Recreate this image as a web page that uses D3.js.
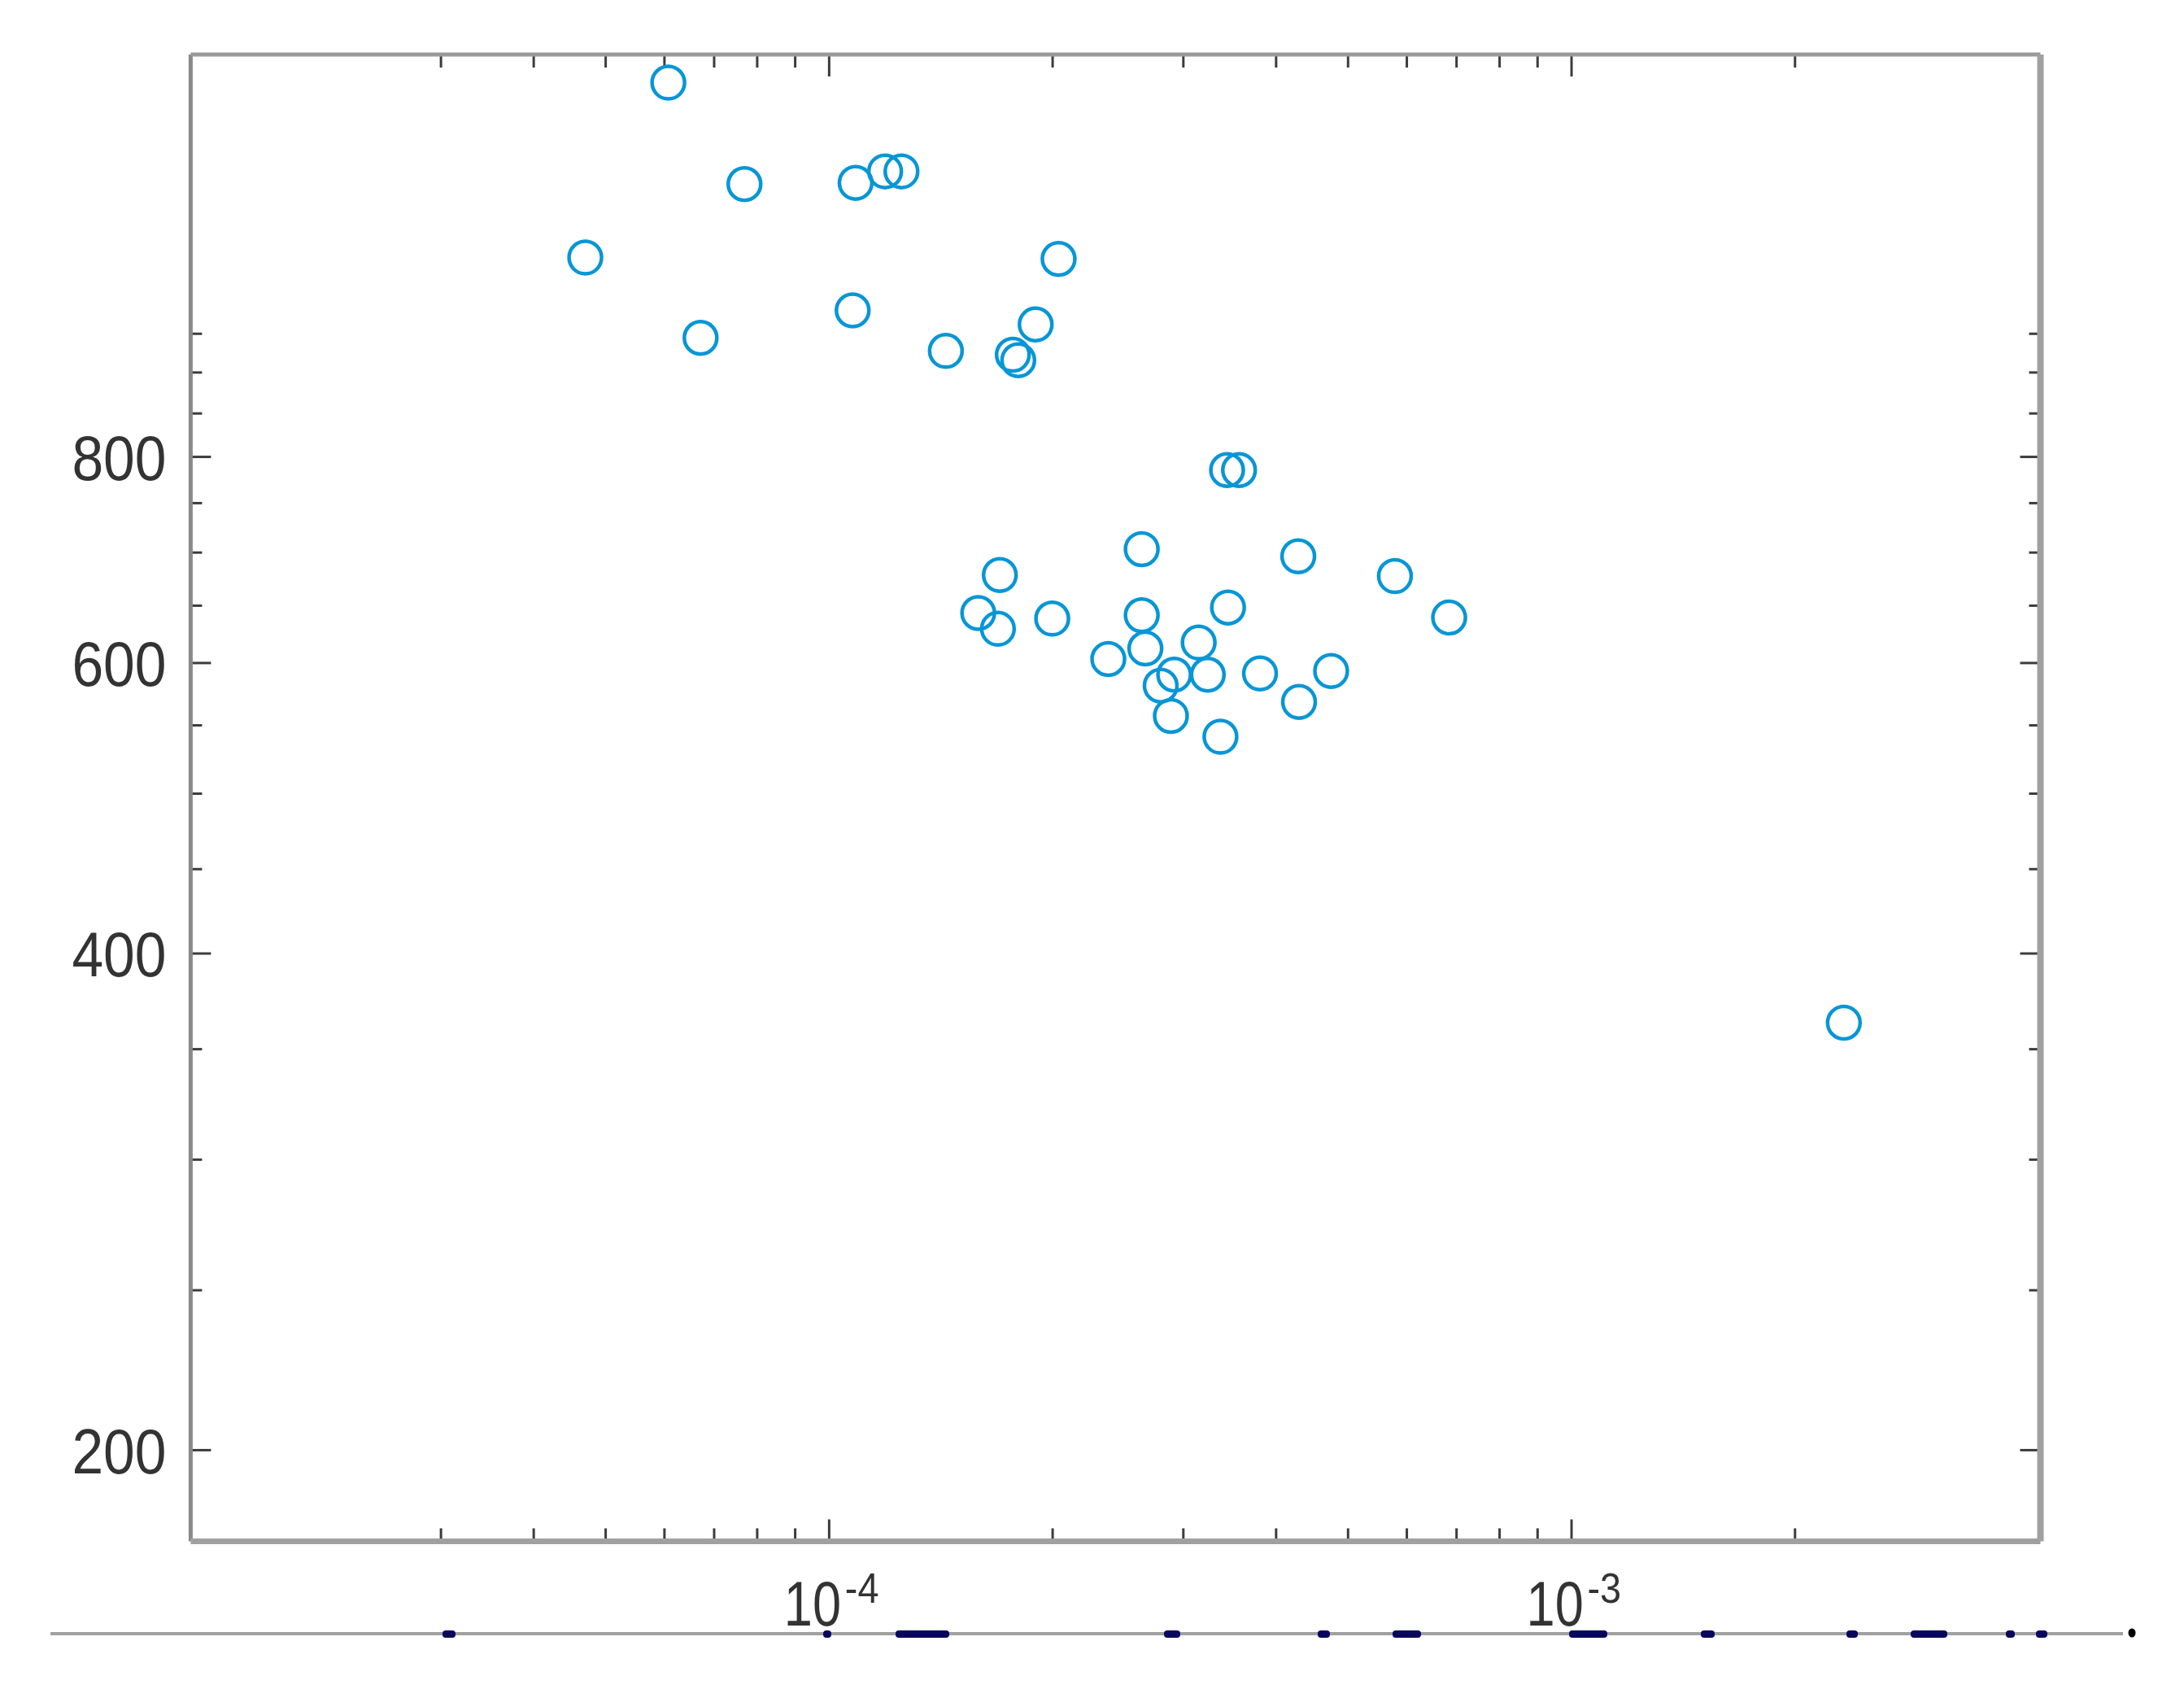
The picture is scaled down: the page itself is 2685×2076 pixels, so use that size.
<!DOCTYPE html>
<html><head><meta charset="utf-8">
<script src="https://cdn.jsdelivr.net/npm/d3@7"></script>
<style>html,body{margin:0;padding:0;background:#fff;overflow:hidden}</style>
</head><body>
<svg id="chart" width="2685" height="2076"></svg>
<script>
// ---- data ----
const xValues = [6.08e-5, 7.70e-5, 1.087e-4, 1.191e-4, 1.253e-4, 4.70e-5, 2.04e-4, 1.077e-4, 6.72e-5, 1.438e-4,
  1.90e-4, 1.77e-4, 1.80e-4, 3.44e-4, 3.57e-4, 2.64e-4, 4.29e-4, 1.70e-4, 5.79e-4, 1.59e-4,
  1.69e-4, 2.64e-4, 2.00e-4, 3.45e-4, 6.85e-4, 2.38e-4, 2.67e-4, 3.15e-4, 2.80e-4, 2.92e-4,
  3.24e-4, 3.81e-4, 4.75e-4, 2.89e-4, 4.30e-4, 3.37e-4, 2.33e-3];
const yValues = [1348, 1170, 1172, 1191, 1191, 1056, 1054, 981, 944, 927,
  962, 922, 915, 785, 785, 703, 696, 678, 677, 643,
  629, 641, 638, 648, 639, 603, 612, 617, 581, 590,
  590, 591, 593, 557, 568, 541, 363];
const xDomain = [1.382e-5, 4.287e-3];
const yDomain = [176.0, 1402];
const xTicksMajor = [1e-4, 1e-3];
const xTickBase = "10";
const xTickExponents = ["-4", "-3"];
const xTicksMinor = [3e-5, 4e-5, 5e-5, 6e-5, 7e-5, 8e-5, 9e-5, 2e-4, 3e-4, 4e-4, 5e-4, 6e-4, 7e-4, 8e-4, 9e-4, 2e-3];
const yTicksMajor = [200, 400, 600, 800];
const yTickLabels = ["200", "400", "600", "800"];
const yTicksMinor = [250, 300, 350, 450, 500, 550, 650, 700, 750, 850, 900, 950];

// ---- layout ----
const W = 2685, H = 2076;
const M = {left: 234.4, right: 2508.5, top: 67, bottom: 1894.5};
const FONT = "'Liberation Sans', Arial, Helvetica, sans-serif";
const svg = d3.select('#chart');
svg.append('rect').attr('width', W).attr('height', H).attr('fill', '#fff');

const x = d3.scaleLog().domain(xDomain).range([M.left, M.right]);
const y = d3.scaleLog().domain(yDomain).range([M.bottom, M.top]);

function tickAxis(axisFn, scale, values, size, transform) {
  const g = svg.append('g').attr('transform', transform)
    .call(axisFn(scale).tickValues(values).tickSize(-size).tickFormat(''));
  g.select('.domain').remove();
  g.selectAll('line').attr('stroke', '#3c3c3c').attr('stroke-width', 3);
  return g;
}
tickAxis(d3.axisBottom, x, xTicksMinor, 16, `translate(0,${M.bottom})`);
tickAxis(d3.axisBottom, x, xTicksMajor, 27, `translate(0,${M.bottom})`);
tickAxis(d3.axisTop, x, xTicksMinor, 16, `translate(0,${M.top})`);
tickAxis(d3.axisTop, x, xTicksMajor, 27, `translate(0,${M.top})`);
tickAxis(d3.axisLeft, y, yTicksMinor, 14, `translate(${M.left},0)`);
tickAxis(d3.axisRight, y, yTicksMinor, 14, `translate(${M.right},0)`);
tickAxis(d3.axisRight, y, yTicksMajor, 25, `translate(${M.right},0)`);

// left major ticks with labels
const yl = svg.append('g').attr('transform', `translate(${M.left},0)`)
  .call(d3.axisLeft(y).tickValues(yTicksMajor).tickSize(-25).tickPadding(30)
    .tickFormat((d, i) => yTickLabels[i]));
yl.select('.domain').remove();
yl.selectAll('line').attr('stroke', '#3c3c3c').attr('stroke-width', 3);
yl.selectAll('text')
  .attr('font-family', FONT).attr('font-size', 78).attr('fill', '#333')
  .attr('dy', '0.36em')
  .attr('textLength', 116).attr('lengthAdjust', 'spacingAndGlyphs');

// x labels 10^n (separate base and exponent texts, horizontally condensed)
const xl = svg.append('g').attr('font-family', FONT).attr('fill', '#333');
xTicksMajor.forEach((d, i) => {
  xl.append('text')
    .attr('transform', `translate(${x(d) - 55},1998) scale(0.82,1)`)
    .attr('font-size', 77)
    .text(xTickBase);
  xl.append('text')
    .attr('transform', `translate(${x(d) + 20},1970) scale(0.9,1)`)
    .attr('font-size', 52)
    .text(xTickExponents[i]);
});

// frame
const frame = svg.append('g').attr('fill', 'none');
frame.append('line').attr('x1', M.left).attr('x2', M.left).attr('y1', M.top).attr('y2', M.bottom)
  .attr('stroke', '#8a8a8a').attr('stroke-width', 5);
frame.append('line').attr('x1', M.left).attr('x2', M.right).attr('y1', M.top).attr('y2', M.top)
  .attr('stroke', '#9a9a9a').attr('stroke-width', 5);
frame.append('line').attr('x1', M.right).attr('x2', M.right).attr('y1', M.top).attr('y2', M.bottom)
  .attr('stroke', '#a0a0a0').attr('stroke-width', 8);
frame.append('line').attr('x1', M.left).attr('x2', M.right).attr('y1', M.bottom).attr('y2', M.bottom)
  .attr('stroke', '#a0a0a0').attr('stroke-width', 7);

// points
svg.append('g').selectAll('circle')
  .data(xValues.map((v, i) => [v, yValues[i]]))
  .join('circle')
  .attr('cx', d => x(d[0])).attr('cy', d => y(d[1]))
  .attr('r', 20)
  .attr('fill', 'none').attr('stroke', '#0796d6').attr('stroke-width', 4.5);

// bottom page decoration (cut-off line of text under a rule)
const deco = svg.append('g');
deco.append('line').attr('x1', 62).attr('x2', 2610).attr('y1', 2008).attr('y2', 2008)
  .attr('stroke', '#a0a0a0').attr('stroke-width', 4);
const stubs = [[544, 16], [1012, 10], [1101, 66], [1431, 20], [1620, 15], [1712, 35],
  [1929, 47], [2091, 17], [2270, 14], [2349, 45], [2466, 11], [2503, 14]];
deco.selectAll('rect.stub').data(stubs).join('rect').attr('class', 'stub')
  .attr('x', d => d[0]).attr('y', 2004).attr('width', d => d[1]).attr('height', 9)
  .attr('rx', 4).attr('fill', '#07075e');
deco.append('ellipse').attr('cx', 2621).attr('cy', 2007).attr('rx', 4.5).attr('ry', 5.5).attr('fill', '#000');
</script></body></html>
